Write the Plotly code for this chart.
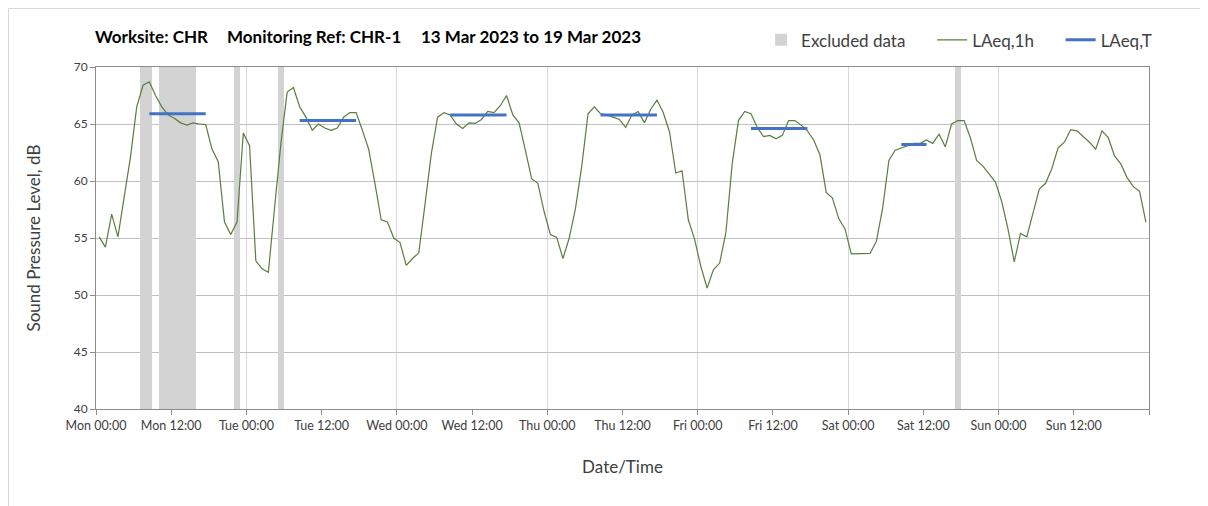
import pandas as pd
import plotly.graph_objects as go

# ---------------- data ----------------
start_time = "2023-03-13 00:30"   # first hourly LAeq,1h value (plotted at mid-hour)
laeq_1h = [
    55.1, 54.2, 57.1, 55.1, 58.6, 62.1, 66.5, 68.4, 68.7, 67.5, 66.5, 65.8,
    65.5, 65.1, 64.9, 65.1, 65.0, 64.95, 62.8, 61.7, 56.4, 55.3, 56.4, 64.2,
    63.1, 53.0, 52.3, 52.0, 57.7, 63.3, 67.8, 68.2, 66.5, 65.6, 64.45, 65.0,
    64.65, 64.45, 64.65, 65.6, 66.0, 66.0, 64.45, 62.8, 59.8, 56.6, 56.4, 55.0,
    54.6, 52.6, 53.2, 53.7, 58.0, 62.4, 65.6, 66.0, 65.8, 65.0, 64.6, 65.1,
    65.05, 65.4, 66.1, 66.0, 66.6, 67.5, 65.8, 65.1, 62.7, 60.2, 59.8, 57.3,
    55.3, 55.05, 53.2, 55.0, 57.6, 61.3, 65.9, 66.5, 65.9, 65.8, 65.6, 65.4,
    64.7, 65.8, 66.1, 65.1, 66.3, 67.1, 66.0, 64.3, 60.7, 60.9, 56.6, 54.9,
    52.5, 50.6, 52.2, 52.8, 55.5, 61.5, 65.3, 66.1, 65.9, 64.7, 63.9, 64.0,
    63.7, 64.0, 65.3, 65.3, 64.9, 64.4, 63.6, 62.3, 59.0, 58.5, 56.7, 55.8,
    53.6, 53.6, 53.6, 53.65, 54.7, 57.6, 61.8, 62.7, 62.9, 63.1, 63.3, 63.3,
    63.6, 63.3, 64.1, 63.0, 65.0, 65.3, 65.3, 63.8, 61.8, 61.3, 60.6, 59.9,
    58.2, 55.8, 52.9, 55.4, 55.1, 57.1, 59.3, 59.8, 61.1, 62.9, 63.4, 64.5,
    64.4, 63.9, 63.4, 62.8, 64.4, 63.8, 62.2, 61.5, 60.3, 59.5, 59.1, 56.4,
]

excluded_start = ["2023-03-13 07:00", "2023-03-13 10:00", "2023-03-13 22:00",
                  "2023-03-14 05:00", "2023-03-18 17:00"]
excluded_end = ["2023-03-13 09:00", "2023-03-13 16:00", "2023-03-13 23:00",
                "2023-03-14 06:00", "2023-03-18 18:00"]

laeqT_start = ["2023-03-13 08:30", "2023-03-14 08:30", "2023-03-15 08:30",
               "2023-03-16 08:30", "2023-03-17 08:30", "2023-03-18 08:30"]
laeqT_end = ["2023-03-13 17:30", "2023-03-14 17:30", "2023-03-15 17:30",
             "2023-03-16 17:30", "2023-03-17 17:30", "2023-03-18 12:30"]
laeqT_value = [65.9, 65.3, 65.8, 65.8, 64.6, 63.2]

day_names = ["Mon", "Tue", "Wed", "Thu", "Fri", "Sat", "Sun"]
week_start = "2023-03-13 00:00"
week_end = "2023-03-20 00:00"

# ---------------- build ----------------
FONT = "Lato"
NB = "\u00a0"
times = pd.date_range(start_time, periods=len(laeq_1h), freq="1h")

ex_s = pd.to_datetime(excluded_start)
ex_e = pd.to_datetime(excluded_end)
ex_mid = ex_s + (ex_e - ex_s) / 2
ex_w = [(e - s).total_seconds() * 1000 for s, e in zip(ex_s, ex_e)]

tx, ty = [], []
for s, e, v in zip(laeqT_start, laeqT_end, laeqT_value):
    tx += [pd.Timestamp(s), pd.Timestamp(e), None]
    ty += [v, v, None]

fig = go.Figure()
fig.add_trace(go.Bar(
    x=ex_mid, y=[30] * len(ex_mid), base=[40] * len(ex_mid), width=ex_w,
    name="Excluded data" + NB * 5, marker=dict(color="#d3d3d3", line=dict(width=0)),
    hoverinfo="skip",
))
fig.add_trace(go.Scatter(
    x=times, y=laeq_1h, mode="lines", name="LAeq,1h" + NB * 5,
    line=dict(color="#5b7d3f", width=1.2),
))
fig.add_trace(go.Scatter(
    x=tx, y=ty, mode="lines", name="LAeq,T", xaxis="x2",
    line=dict(color="#4472c4", width=3),
))

days = pd.date_range(week_start, week_end, freq="1D")
noons = days[:-1] + pd.Timedelta(hours=12)
day_text = [f"{d} 00:00" for d in day_names] + [""]
noon_text = [f"{d} 12:00" for d in day_names]

tickfont = dict(family=FONT, size=12.5, color="#404040")
common_x = dict(range=[pd.Timestamp(week_start), pd.Timestamp(week_end)],
                ticks="outside", ticklen=5, tickcolor="#8c8c8c",
                tickfont=tickfont, zeroline=False)

# the page body adds an 8px offset, so the figure is 8px smaller than the window
fig.update_layout(
    width=1200, height=498,
    margin=dict(l=88, r=59, t=59, b=97),
    paper_bgcolor="white", plot_bgcolor="white",
    font=dict(family=FONT, color="#404040"),
    barmode="overlay", bargap=0,
    showlegend=True,
    legend=dict(orientation="h", x=1.0077, y=1.078, xanchor="right", yanchor="middle",
                font=dict(family=FONT, size=17, color="#404040"),
                itemwidth=30, traceorder="normal", bgcolor="rgba(0,0,0,0)"),
    xaxis=dict(**common_x, tickvals=list(days), ticktext=day_text,
               showgrid=True, gridcolor="#d9d9d9", gridwidth=1,
               showline=True, linecolor="#8c8c8c", mirror=True,
               title=dict(text="Date/Time", font=dict(family=FONT, size=17, color="#404040"),
                          standoff=29)),
    xaxis2=dict(**common_x, overlaying="x", matches="x", anchor="y", side="bottom",
                tickvals=list(noons), ticktext=noon_text, showgrid=False, showline=False),
    yaxis=dict(range=[40, 70], tick0=40, dtick=5, ticks="outside", ticklen=5,
               tickcolor="#8c8c8c", tickfont=dict(family=FONT, size=12, color="#404040"),
               showgrid=True, gridcolor="#c0c0c0", gridwidth=1, zeroline=False,
               showline=True, linecolor="#8c8c8c", mirror=True,
               title=dict(text="Sound Pressure Level, dB",
                          font=dict(family=FONT, size=17, color="#404040"), standoff=28)),
)

# title pieces
title_parts = [("Worksite: CHR", 93), ("Monitoring Ref: CHR-1", 225),
               ("13 Mar 2023 to 19 Mar 2023", 419)]
for txt, px in title_parts:
    fig.add_annotation(text=f"<b>{txt}</b>", xref="paper", yref="paper",
                       x=(px - 96) / 1053, y=(409 - 37) / 342, xanchor="left",
                       yanchor="middle", showarrow=False,
                       font=dict(family=FONT, size=17, color="black"))

# outer chart-area border
fig.add_shape(type="rect", xref="paper", yref="paper",
              x0=(8.5 - 96) / 1053, x1=1.2, y0=-0.5, y1=(409 - 8.5) / 342,
              line=dict(color="#d9d9d9", width=1), fillcolor="rgba(0,0,0,0)", layer="below")

fig.write_html("out.html")
